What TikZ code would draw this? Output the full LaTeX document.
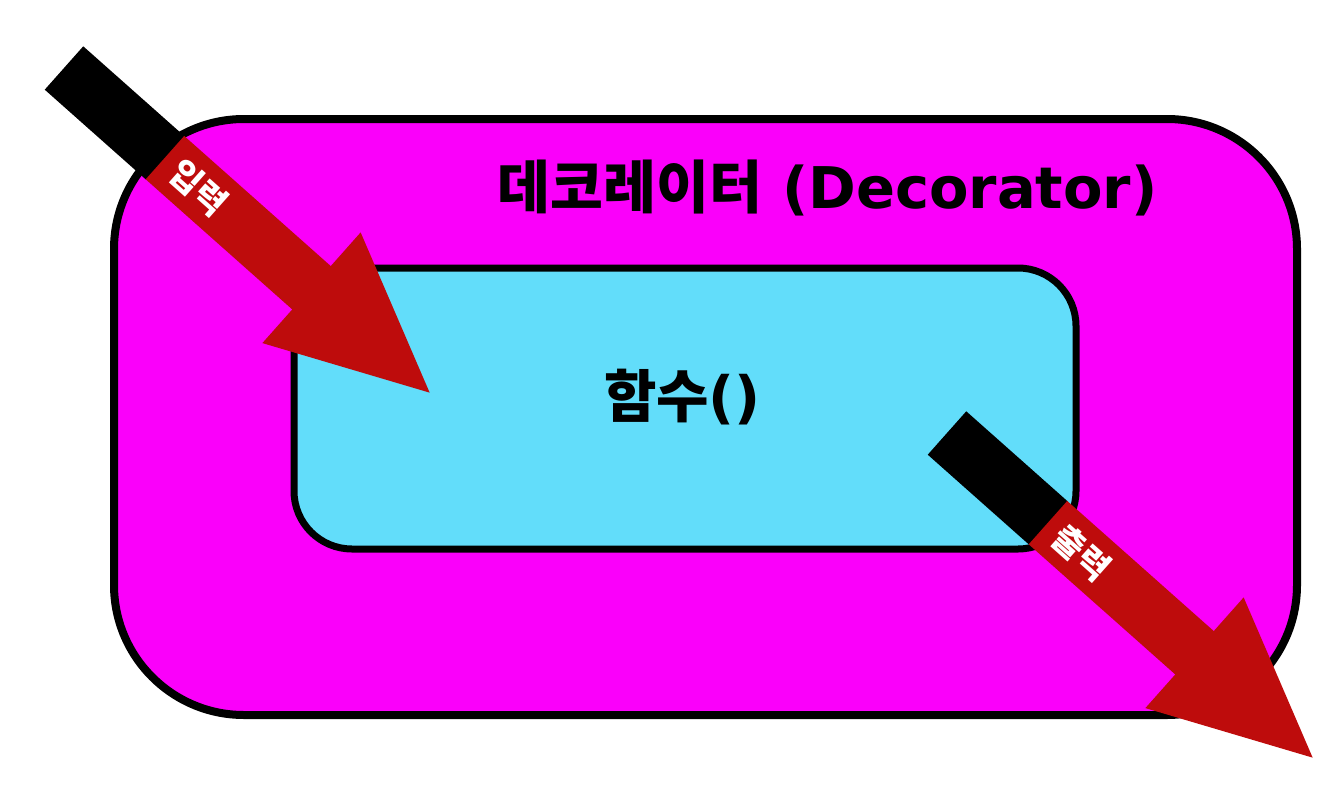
\documentclass[tikz,border=0pt]{standalone}
\usepackage{fontspec}
\setmainfont{DejaVu Sans}
\newfontfamily\krfont{Noto Sans CJK KR}
\usetikzlibrary{positioning}
\definecolor{decomagenta}{RGB}{250,0,250}
\definecolor{funccyan}{RGB}{98,221,250}
\definecolor{arrowred}{RGB}{190,12,12}

\tikzset{
    roundbox/.style={draw=black,rectangle,inner sep=0pt},
    arrowlabel/.style={transform shape,text=white,inner sep=0pt,
        font=\krfont\bfseries\fontsize{34}{34}\selectfont},
    bigarrow/.pic={
        \fill[black] (0,-29) rectangle (136,29);
        \fill[arrowred] (135,-29) rectangle (332,29);
        \fill[arrowred] (331,-74) -- (489,0) -- (331,74) -- cycle;
        \node[arrowlabel] (-label) at (180,0) {#1};
    }
}

\begin{document}
\begin{tikzpicture}[x=1pt,y=-1pt]
    \useasboundingbox (0,0) rectangle (1344,800);

        \node[roundbox,fill=decomagenta,line width=8pt,rounded corners=130pt,
            minimum width=1183pt,minimum height=596pt] (deco) at (705.5,417) {};
        \node[roundbox,fill=funccyan,line width=7pt,rounded corners=58pt,
            minimum width=782pt,minimum height=281pt] (func) at (685,408.5) {};

        \node[font=\bfseries\fontsize{57.5}{60}\selectfont] (decotitle) at (827.5,188)
            {{\krfont 데코레이터} (Decorator)};
        \node[font=\bfseries\fontsize{57}{60}\selectfont] (functitle) at (682.5,397)
            {{\krfont 함수}()};

        \path (64,68) pic[rotate=-41.6] (in) {bigarrow=입력};
        \path (947,433) pic[rotate=-41.6] (out) {bigarrow=출력};

    \end{tikzpicture}
\end{document}
